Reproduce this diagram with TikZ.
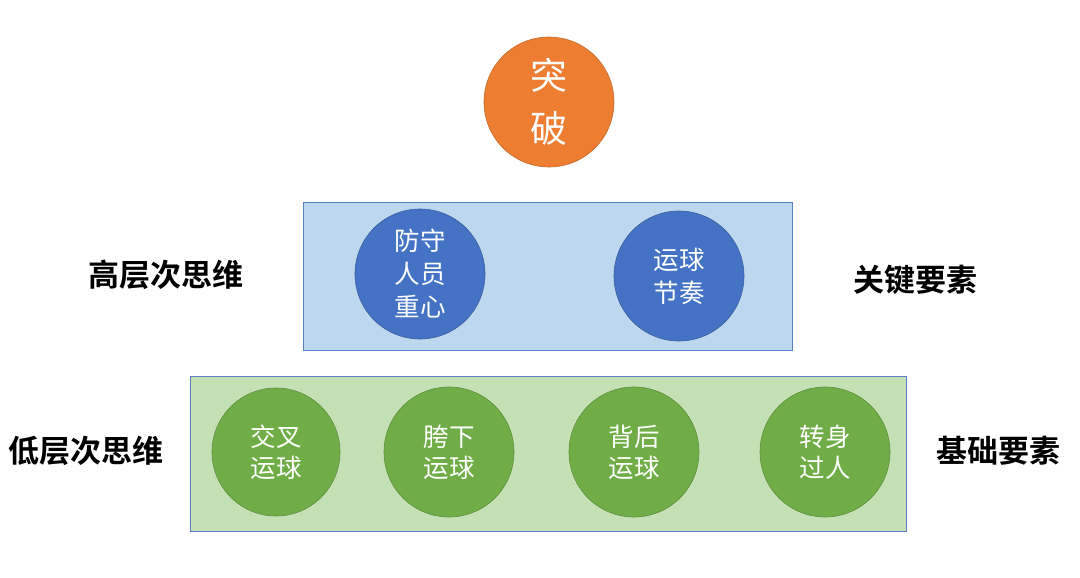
\documentclass[tikz,border=0pt]{standalone}
\usepackage{fontspec}
\setmainfont{Noto Sans CJK SC}
\newfontfamily\cjkb{Noto Sans CJK SC Bold}
\definecolor{orangeC}{HTML}{ED7D31}
\definecolor{orangeD}{HTML}{C46A2C}
\definecolor{blueC}{HTML}{4472C4}
\definecolor{blueD}{HTML}{3A5F9E}
\definecolor{blueF}{HTML}{BDD7EE}
\definecolor{greenC}{HTML}{70AD47}
\definecolor{greenD}{HTML}{5E8F3C}
\definecolor{greenF}{HTML}{C5E0B4}
\definecolor{frame}{HTML}{5B7FC4}
\begin{document}
\begin{tikzpicture}[x=1pt,y=-1pt,
  ball/.style={circle,minimum size=130pt,inner sep=0pt,text=white,align=center,line width=0.6pt},
  oball/.style={ball,fill=orangeC,draw=orangeD,font=\fontsize{37}{53}\selectfont},
  bball/.style={ball,fill=blueC,draw=blueD,font=\fontsize{25.5}{33}\selectfont},
  gball/.style={ball,fill=greenC,draw=greenD,font=\fontsize{25.5}{31}\selectfont},
  lab/.style={font=\cjkb\fontsize{31}{34}\selectfont,text=black,inner sep=0pt}]
\useasboundingbox (0,0) rectangle (1080,578);
\fill[white] (0,0) rectangle (1080,578);
\node[oball] (tp) at (549,102) {突\\破};
\draw[draw=frame,fill=blueF,line width=0.8pt] (303,202) rectangle (792,350);
\node[bball] (b1) at (420,274) {防守\\人员\\重心};
\node[bball] (b2) at (679,276) {运球\\节奏};
\draw[draw=frame,fill=greenF,line width=0.8pt] (190,376) rectangle (906,531);
\node[gball,minimum size=128pt] (g1) at (276,452) {交叉\\运球};
\node[gball] (g2) at (449,452) {胯下\\运球};
\node[gball] (g3) at (634,452) {背后\\运球};
\node[gball] (g4) at (825,452) {转身\\过人};
\node[lab] (l1) at (166,275) {高层次思维};
\node[lab] (l2) at (86,451) {低层次思维};
\node[lab] (r1) at (915,280) {关键要素};
\node[lab] (r2) at (998,451) {基础要素};
\end{tikzpicture}
\end{document}
